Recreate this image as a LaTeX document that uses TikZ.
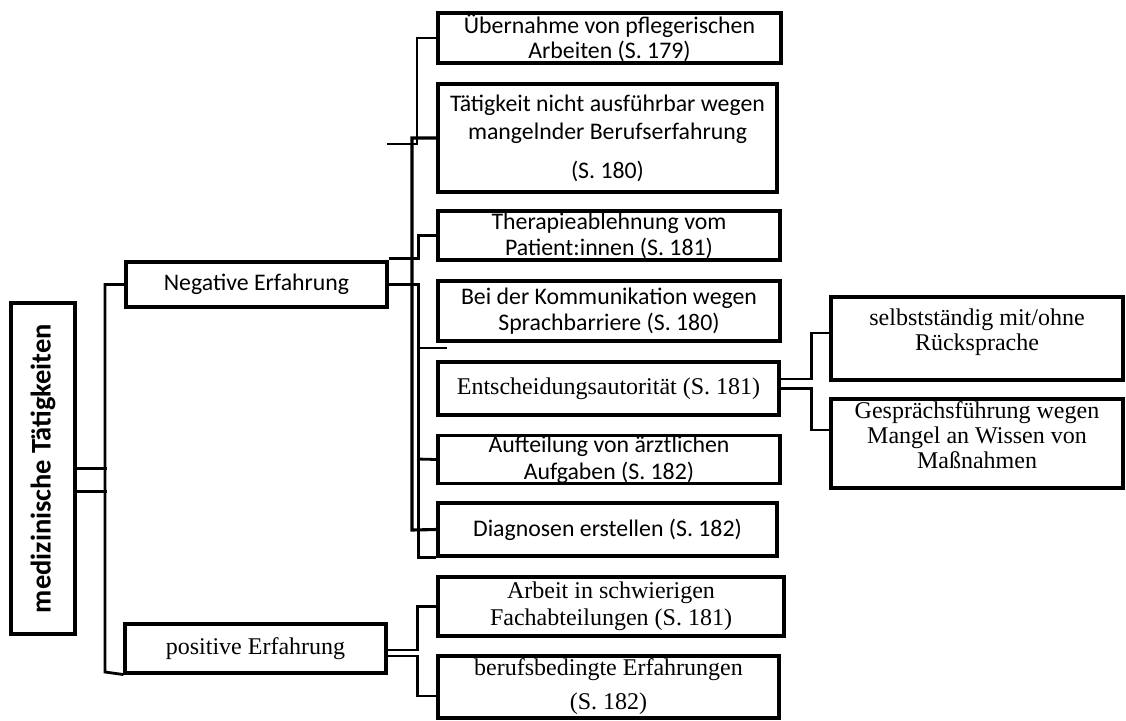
\documentclass[tikz,border=0pt]{standalone}
\usepackage{fontspec}
\setmainfont{Liberation Serif}
\newfontfamily\calib{Carlito}
\begin{document}
\begin{tikzpicture}[x=1pt,y=-1pt,
  box/.style={draw, line width=3.1pt, inner sep=0pt, align=center},
  conn/.style={line width=2.8pt},
  sanst/.style={font=\calib\fontsize{23.8}{25}\selectfont},
  serift/.style={font=\fontsize{24}{25}\selectfont},
  plain/.style={inner sep=0pt, align=center}]
\useasboundingbox[fill=white] (0,0) rectangle (1126,720);

% boxes
\node[box, minimum width=64pt, minimum height=331pt] (main) at (43,468.5) {};
\node[plain, rotate=90, font=\calib\bfseries\fontsize{28.5}{30}\selectfont] (maint) at (main.center) {medizinische Tätigkeiten};
\node[box, sanst, minimum width=261pt, minimum height=45pt] (neg) at (256.5,284.5) {Negative Erfahrung};
\node[box, serift, minimum width=261pt, minimum height=49pt] (pos) at (255.5,648.5) {positive Erfahrung};

\node[box, sanst, minimum width=343pt, minimum height=50pt] (b1) at (609.5,38) {Übernahme von pflegerischen\\Arbeiten (S. 179)};
\node[box, sanst, minimum width=339pt, minimum height=108pt] (b2) at (607.5,138) {Tätigkeit nicht ausführbar wegen\\[3pt]mangelnder Berufserfahrung\\[14pt](S. 180)};
\node[box, sanst, minimum width=342pt, minimum height=49pt] (b3) at (609,235.5) {Therapieablehnung vom\\[1pt]Patient:innen (S. 181)};
\node[box, sanst, minimum width=342pt, minimum height=60pt] (b4) at (609,311) {Bei der Kommunikation wegen\\[1pt]Sprachbarriere (S. 180)};
\node[box, serift, minimum width=341pt, minimum height=53pt] (b5) at (608.5,388.5) {Entscheidungsautorität (S. 181)};
\node[box, sanst, minimum width=342pt, minimum height=47pt] (b6) at (609,459.5) {Aufteilung von ärztlichen\\[2pt]Aufgaben (S. 182)};
\node[box, sanst, minimum width=339pt, minimum height=53pt] (b7) at (607.5,529.5) {Diagnosen erstellen (S. 182)};

\node[box, serift, minimum width=346pt, minimum height=59pt] (p1) at (611,606.5) {Arbeit in schwierigen\\[2pt]Fachabteilungen (S. 181)};
\node[box, serift, minimum width=341pt, minimum height=62pt] (p2) at (608.5,687) {berufsbedingte Erfahrungen\\[9pt](S. 182)};

\node[box, minimum width=292pt, minimum height=83pt] (r1) at (977,338.5) {};
\node[plain, serift] (r1t) at (977,332) {selbstständig mit/ohne\\Rücksprache};
\node[box, minimum width=292pt, minimum height=89pt] (r2) at (977,443.5) {};
\node[plain, serift] (r2t) at (977,435.5) {Gesprächsführung wegen\\Mangel an Wissen von\\Maßnahmen};

% junction coordinates
\coordinate (s1) at (387,144);
\coordinate (v4) at (417,459);
\coordinate (st1) at (417,348);
\coordinate (st2) at (447,348);

% main to first level
\draw[conn] (main.east) -- ++(30,0);
\draw[conn] ([yshift=-23pt]main.east) -- ++(30,0);
\draw[conn] (neg.west) -| (105,672) -- (pos.south west);

% negative branch
\draw[conn] (b1.west) -| (417,144) -- (s1);
\draw[conn, line width=3.1pt] (b2.west) -| (412,530) -- (b7.west);
\draw[conn] ([yshift=2pt]neg.north east) -- ++(30,0) |- (b3.west);
\draw[conn] (neg.east) -- ++(30,0) |- (b7.south west);
\draw[conn] (v4) -- (b6.west);
\draw[conn, line width=2.2pt] (st1) -- (st2);

% decision branch
\draw[conn] ([yshift=9.5pt]b5.east) -- ++(31,0) |- ([yshift=5.5pt]r1.west);
\draw[conn] (b5.east) -- ++(31,0) |- ([yshift=13.5pt]r2.west);

% positive branch
\draw[conn] ([yshift=-1.5pt]pos.east) -- ++(30,0) |- (p1.west);
\draw[conn] ([yshift=-7.5pt]pos.east) -- ++(30,0) |- ([yshift=-9pt]p2.west);
\end{tikzpicture}
\end{document}
